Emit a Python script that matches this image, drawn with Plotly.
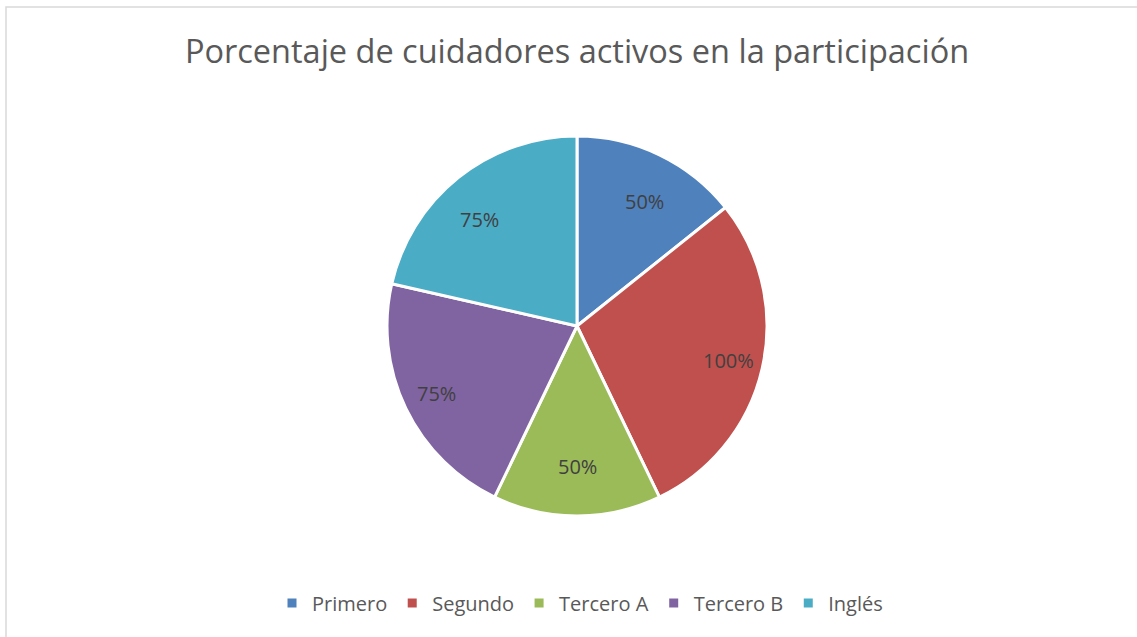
import math
import plotly.graph_objects as go

# categories and values
grupos = ["Primero", "Segundo", "Tercero A", "Tercero B", "Inglés"]
porcentajes = [50, 100, 50, 75, 75]
colores = ["#4F81BD", "#C0504D", "#9BBB59", "#8064A2", "#4BACC6"]

W, H = 1137, 637
cx, cy, R = 577, 326, 190  # pie centre and radius in px

fig = go.Figure(
    data=[go.Pie(
        labels=grupos,
        values=porcentajes,
        textinfo="none",
        sort=False,
        direction="clockwise",
        rotation=0,
        marker=dict(colors=colores, line=dict(color="white", width=3)),
        domain=dict(x=[(cx - R) / W, (cx + R) / W], y=[1 - (cy + R) / H, 1 - (cy - R) / H]),
        hoverinfo="label+value",
    )]
)

# data labels placed at the middle angle of each slice, like Excel "best fit"
total = sum(porcentajes)
acum = 0
anotaciones = []
for v in porcentajes:
    ang = 2 * math.pi * (acum + v / 2) / total
    acum += v
    r = 0.82 * R
    anotaciones.append(dict(
        x=(cx + r * math.sin(ang)) / W, y=1 - (cy - r * math.cos(ang)) / H,
        xref="paper", yref="paper", text=str(v) + "%", showarrow=False,
        font=dict(family="Open Sans", size=20, color="#404040"),
    ))

fig.update_layout(
    width=W,
    height=H,
    margin=dict(l=0, r=0, t=0, b=0),
    paper_bgcolor="white",
    title=dict(
        text="Porcentaje de cuidadores activos en la participación",
        x=577 / W, xanchor="center",
        y=1 - 52 / H, yanchor="middle",
        font=dict(family="Open Sans", size=32.5, color="#595959"),
    ),
    legend=dict(
        orientation="h",
        x=580 / W, xanchor="center",
        y=1 - 603 / H, yanchor="middle",
        font=dict(family="Open Sans", size=20, color="#595959"),
        itemwidth=30,
        traceorder="normal",
    ),
    showlegend=True,
    annotations=anotaciones,
    shapes=[dict(
        type="path", xref="paper", yref="paper",
        path="M %f,0 L %f,%f L 1,%f" % (6 / W, 6 / W, 1 - 7 / H, 1 - 7 / H),
        line=dict(color="#D9D9D9", width=1.5),
    )],
)

fig.write_html("out.html", config={"displayModeBar": False},
               post_script="document.body.style.margin='0';")
